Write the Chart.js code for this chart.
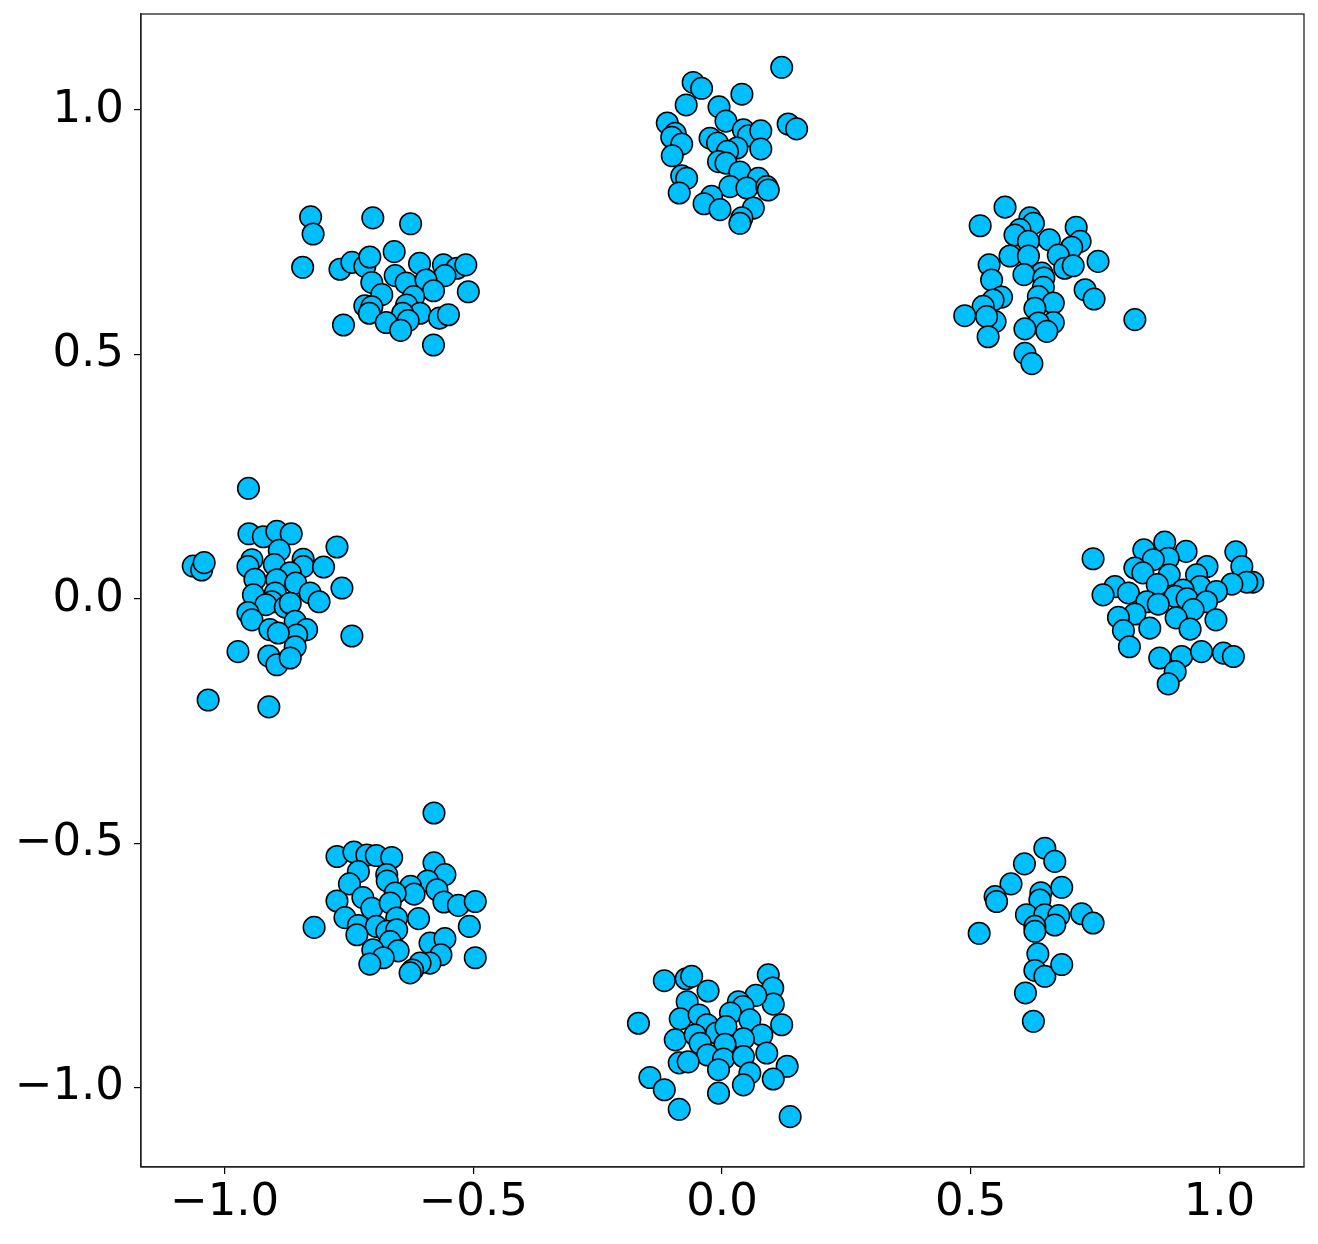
<!DOCTYPE html>
<html>
<head>
<meta charset="utf-8">
<script src="https://cdn.jsdelivr.net/npm/chart.js@4/dist/chart.umd.min.js"></script>
<style>
  body { margin: 0; background: #fff; }
  #wrap { width: 1318px; height: 1244px; }
</style>
</head>
<body>
<div id="wrap"><canvas id="scatter" width="1318" height="1244"></canvas></div>
<script>
// point clusters, [x, y]
const clusterTop = [
  [0.120, 1.087], [-0.058, 1.056], [-0.041, 1.044], [0.040, 1.032], [-0.072, 1.010],
  [-0.006, 1.006], [-0.110, 0.973], [0.008, 0.977], [0.133, 0.971], [0.150, 0.961],
  [-0.094, 0.952], [-0.101, 0.944], [-0.081, 0.930], [-0.100, 0.906], [0.043, 0.959],
  [0.053, 0.947], [0.078, 0.957], [-0.024, 0.942], [-0.009, 0.932], [0.030, 0.922],
  [0.011, 0.915], [0.078, 0.920], [-0.007, 0.894], [0.008, 0.891], [0.036, 0.873],
  [-0.081, 0.865], [-0.071, 0.860], [0.073, 0.860], [0.016, 0.843], [0.050, 0.840],
  [0.090, 0.843], [0.093, 0.836], [-0.086, 0.830], [-0.021, 0.823], [-0.036, 0.808],
  [-0.004, 0.796], [0.063, 0.799], [0.040, 0.779], [0.036, 0.768]
];
const clusterTopRight = [
  [0.569, 0.801], [0.519, 0.763], [0.619, 0.779], [0.626, 0.768], [0.599, 0.755],
  [0.589, 0.744], [0.712, 0.760], [0.658, 0.734], [0.720, 0.731], [0.616, 0.731],
  [0.703, 0.719], [0.676, 0.703], [0.579, 0.701], [0.616, 0.701], [0.756, 0.690],
  [0.537, 0.683], [0.689, 0.676], [0.706, 0.681], [0.643, 0.666], [0.607, 0.663],
  [0.647, 0.656], [0.542, 0.652], [0.646, 0.637], [0.730, 0.632], [0.748, 0.613],
  [0.562, 0.617], [0.545, 0.611], [0.525, 0.598], [0.636, 0.618], [0.666, 0.605],
  [0.629, 0.594], [0.488, 0.579], [0.549, 0.567], [0.532, 0.577], [0.666, 0.565],
  [0.636, 0.564], [0.653, 0.547], [0.609, 0.552], [0.535, 0.536], [0.609, 0.502],
  [0.623, 0.481], [0.830, 0.571]
];
const clusterRight = [
  [0.746, 0.082], [0.890, 0.116], [0.848, 0.100], [0.933, 0.097], [0.897, 0.083],
  [0.867, 0.080], [1.033, 0.096], [0.975, 0.066], [1.045, 0.066], [0.830, 0.063],
  [0.846, 0.053], [0.899, 0.049], [0.954, 0.049], [1.067, 0.034], [1.055, 0.034],
  [1.025, 0.030], [0.790, 0.025], [0.766, 0.008], [0.817, 0.012], [0.875, 0.029],
  [0.961, 0.025], [0.927, 0.018], [0.994, 0.015], [0.911, 0.005], [0.854, -0.006],
  [0.877, -0.011], [0.935, 0.000], [0.974, -0.006], [0.947, -0.022], [0.830, -0.031],
  [0.797, -0.038], [0.913, -0.039], [0.993, -0.043], [0.807, -0.065], [0.860, -0.060],
  [0.941, -0.062], [0.819, -0.098], [0.880, -0.121], [0.924, -0.118], [0.964, -0.108],
  [1.008, -0.111], [1.028, -0.118], [0.911, -0.149], [0.897, -0.174]
];
const clusterBottomRight = [
  [0.649, -0.510], [0.669, -0.537], [0.608, -0.542], [0.581, -0.583], [0.683, -0.590],
  [0.549, -0.609], [0.552, -0.619], [0.641, -0.601], [0.639, -0.616], [0.612, -0.646],
  [0.649, -0.646], [0.677, -0.648], [0.669, -0.667], [0.629, -0.670], [0.629, -0.680],
  [0.723, -0.644], [0.746, -0.663], [0.517, -0.684], [0.635, -0.726], [0.629, -0.760],
  [0.649, -0.772], [0.683, -0.748], [0.610, -0.806], [0.626, -0.864]
];
const clusterBottom = [
  [-0.116, -0.781], [-0.072, -0.777], [-0.061, -0.772], [-0.028, -0.802], [0.093, -0.769],
  [0.102, -0.796], [0.103, -0.829], [0.068, -0.811], [0.033, -0.824], [0.042, -0.834],
  [-0.070, -0.824], [-0.168, -0.868], [-0.084, -0.859], [-0.046, -0.851], [0.017, -0.847],
  [0.056, -0.861], [0.120, -0.871], [-0.030, -0.871], [-0.094, -0.902], [-0.054, -0.892],
  [-0.011, -0.888], [0.008, -0.875], [0.080, -0.892], [0.043, -0.900], [-0.044, -0.909],
  [0.006, -0.911], [-0.029, -0.933], [-0.086, -0.949], [-0.068, -0.947], [0.003, -0.941],
  [0.043, -0.936], [0.090, -0.929], [-0.007, -0.963], [0.056, -0.970], [0.131, -0.956],
  [0.103, -0.982], [0.043, -0.994], [-0.145, -0.979], [-0.116, -1.004], [-0.007, -1.011],
  [-0.086, -1.044], [0.137, -1.059]
];
const clusterBottomLeft = [
  [-0.579, -0.438], [-0.774, -0.527], [-0.740, -0.518], [-0.714, -0.524], [-0.695, -0.525],
  [-0.664, -0.529], [-0.731, -0.558], [-0.674, -0.564], [-0.579, -0.540], [-0.557, -0.564],
  [-0.749, -0.583], [-0.673, -0.577], [-0.592, -0.577], [-0.626, -0.588], [-0.573, -0.595],
  [-0.619, -0.604], [-0.774, -0.618], [-0.722, -0.611], [-0.657, -0.602], [-0.559, -0.620],
  [-0.530, -0.627], [-0.496, -0.619], [-0.704, -0.633], [-0.667, -0.622], [-0.758, -0.652],
  [-0.654, -0.653], [-0.610, -0.654], [-0.731, -0.668], [-0.695, -0.670], [-0.820, -0.672],
  [-0.508, -0.670], [-0.734, -0.687], [-0.674, -0.680], [-0.654, -0.677], [-0.667, -0.701],
  [-0.587, -0.704], [-0.557, -0.695], [-0.702, -0.718], [-0.651, -0.720], [-0.681, -0.734],
  [-0.708, -0.747], [-0.565, -0.728], [-0.587, -0.745], [-0.607, -0.745], [-0.622, -0.759],
  [-0.627, -0.765], [-0.496, -0.734]
];
const clusterLeft = [
  [-0.952, 0.226], [-0.951, 0.133], [-0.922, 0.127], [-0.895, 0.138], [-0.866, 0.133],
  [-0.890, 0.099], [-0.774, 0.106], [-1.063, 0.067], [-1.046, 0.059], [-1.041, 0.074],
  [-0.945, 0.080], [-0.953, 0.066], [-0.900, 0.070], [-0.842, 0.081], [-0.842, 0.066],
  [-0.801, 0.065], [-0.868, 0.053], [-0.939, 0.040], [-0.895, 0.039], [-0.857, 0.032],
  [-0.942, 0.008], [-0.898, 0.012], [-0.828, 0.012], [-0.764, 0.022], [-0.810, -0.006],
  [-0.905, -0.006], [-0.917, -0.012], [-0.878, -0.017], [-0.868, -0.009], [-0.953, -0.028],
  [-0.945, -0.043], [-0.909, -0.063], [-0.858, -0.046], [-0.835, -0.063], [-0.855, -0.074],
  [-0.744, -0.076], [-0.858, -0.098], [-0.892, -0.070], [-0.973, -0.108], [-0.911, -0.117],
  [-0.895, -0.135], [-0.868, -0.121], [-1.033, -0.207], [-0.911, -0.221]
];
const clusterTopLeft = [
  [-0.827, 0.781], [-0.822, 0.746], [-0.702, 0.779], [-0.626, 0.767], [-0.843, 0.678],
  [-0.768, 0.674], [-0.744, 0.688], [-0.718, 0.680], [-0.708, 0.699], [-0.659, 0.710],
  [-0.608, 0.686], [-0.560, 0.683], [-0.533, 0.676], [-0.515, 0.683], [-0.557, 0.661],
  [-0.657, 0.661], [-0.704, 0.647], [-0.635, 0.646], [-0.595, 0.652], [-0.510, 0.628],
  [-0.580, 0.630], [-0.684, 0.622], [-0.620, 0.618], [-0.718, 0.599], [-0.704, 0.597],
  [-0.709, 0.584], [-0.634, 0.601], [-0.607, 0.584], [-0.642, 0.584], [-0.675, 0.565],
  [-0.631, 0.569], [-0.568, 0.574], [-0.550, 0.581], [-0.761, 0.560], [-0.646, 0.549],
  [-0.580, 0.519]
];

const xTicks = [-1.0, -0.5, 0.0, 0.5, 1.0];
const yTicks = [-1.0, -0.5, 0.0, 0.5, 1.0];
const xRange = [-1.168, 1.170];
const yRange = [-1.162, 1.196];

const allPoints = [].concat(clusterTop, clusterTopRight, clusterRight, clusterBottomRight,
  clusterBottom, clusterBottomLeft, clusterLeft, clusterTopLeft)
  .map(p => ({ x: p[0], y: p[1] }));

function fmtTick(v) {
  return v.toFixed(1).replace('-', '\u2212');
}

// box around the plot area, like the matplotlib frame
const frame = {
  id: 'frame',
  afterDraw(chart) {
    const a = chart.chartArea;
    const ctx = chart.ctx;
    ctx.save();
    ctx.strokeStyle = '#222';
    ctx.lineWidth = 1.3;
    ctx.strokeRect(a.left, a.top, a.right - a.left, a.bottom - a.top);
    ctx.restore();
  }
};

const tickFont = { family: 'DejaVu Sans', size: 45 };

new Chart(document.getElementById('scatter'), {
  type: 'scatter',
  data: {
    datasets: [{
      data: allPoints,
      backgroundColor: '#00bfff',
      borderColor: '#000',
      borderWidth: 1.5,
      pointRadius: 10.8,
      pointHoverRadius: 10.8
    }]
  },
  options: {
    responsive: false,
    animation: false,
    events: [],
    layout: { padding: { top: 14, right: 14, left: 0, bottom: 0 } },
    plugins: { legend: { display: false }, tooltip: { enabled: false } },
    scales: {
      x: {
        type: 'linear',
        min: xRange[0],
        max: xRange[1],
        afterBuildTicks: axis => { axis.ticks = xTicks.map(v => ({ value: v })); },
        afterFit: axis => { axis.height = 77; axis.paddingLeft = 0; axis.paddingRight = 0; },
        grid: { drawOnChartArea: false, drawTicks: true, tickLength: 7, color: '#000', lineWidth: 1.2 },
        border: { display: true, color: '#222', width: 1.3 },
        ticks: { color: '#000', font: tickFont, padding: 2, maxRotation: 0, callback: v => fmtTick(v) }
      },
      y: {
        type: 'linear',
        min: yRange[0],
        max: yRange[1],
        afterBuildTicks: axis => { axis.ticks = yTicks.map(v => ({ value: v })); },
        afterFit: axis => { axis.width = 141; axis.paddingTop = 0; axis.paddingBottom = 0; },
        grid: { drawOnChartArea: false, drawTicks: true, tickLength: 7, color: '#000', lineWidth: 1.2 },
        border: { display: true, color: '#222', width: 1.3 },
        ticks: { color: '#000', font: tickFont, padding: 10, callback: v => fmtTick(v) }
      }
    }
  },
  plugins: [frame]
});
</script>
</body>
</html>
